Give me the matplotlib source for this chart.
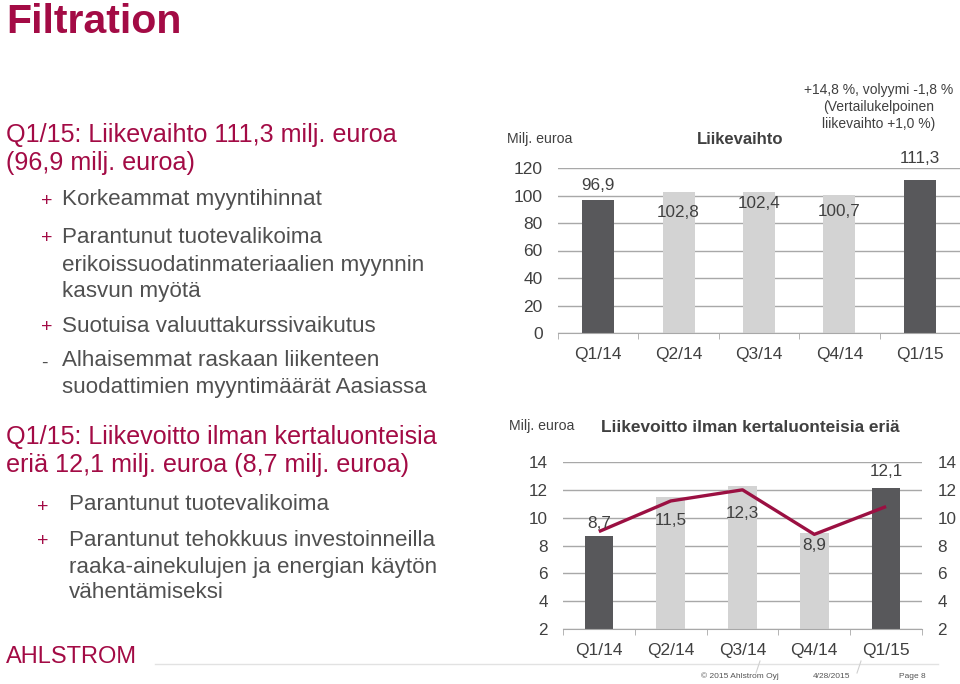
import matplotlib
matplotlib.use("Agg")
import matplotlib.pyplot as plt
from matplotlib.lines import Line2D

plt.rcParams['font.family'] = ['Liberation Sans', 'DejaVu Sans']

quarters = ['Q1/14', 'Q2/14', 'Q3/14', 'Q4/14', 'Q1/15']
net_sales = [96.9, 102.8, 102.4, 100.7, 111.3]
op_profit = [8.7, 11.5, 12.3, 8.9, 12.1]
op_trend = [9.0, 11.2, 12.0, 8.8, 10.8]
highlight = [True, False, False, False, True]

sales_ticks = [0, 20, 40, 60, 80, 100, 120]
profit_ticks = [2, 4, 6, 8, 10, 12, 14]

# label offsets (points) relative to bar tops
sales_label_dy = [10.5, -15, -8, -12, 15.5]
profit_label_dy = [9, -17, -20, -9, 12]

DARK = '#58585b'
LIGHT = '#d3d3d3'
CRIMSON = '#a30b45'
LINE = '#9b1042'
GRAY_TXT = '#505050'
GRID = '#a8a8a8'

W, H = 960, 684
fig = plt.figure(figsize=(W / 100, H / 100), dpi=100)


def fx(x):
    return x / W


def fy(y):
    return 1 - y / H


def fmt(v):
    return f"{v:.1f}".replace('.', ',')


def style_axis(ax, ticks, ylim, ylabsize):
    x = list(range(len(quarters)))
    ax.set_xlim(-0.5, len(quarters) - 0.5)
    ax.set_ylim(*ylim)
    ax.set_yticks(ticks)
    ax.set_yticklabels([str(t) for t in ticks])
    ax.set_xticks(x)
    ax.set_xticklabels(quarters)
    ax.set_xticks([i - 0.5 for i in range(len(quarters) + 1)], minor=True)
    ax.tick_params(axis='x', which='major', length=0, labelsize=12.5,
                   labelcolor='#404040', pad=10)
    ax.tick_params(axis='x', which='minor', length=4, color=GRID, direction='out')
    ax.tick_params(axis='y', length=0, labelsize=ylabsize, labelcolor='#404040', pad=11)
    for s in ['top', 'right', 'left']:
        ax.spines[s].set_visible(False)
    ax.spines['bottom'].set_color(GRID)
    ax.grid(axis='y', color=GRID, linewidth=1)
    ax.set_axisbelow(True)


# ---------- top chart: net sales ----------
ax1 = fig.add_axes([fx(558), fy(333), fx(960) - fx(558), fy(168) - fy(333)])
xs = list(range(len(quarters)))
cols = [DARK if h else LIGHT for h in highlight]
ax1.bar(xs, net_sales, width=0.4, color=cols, zorder=2)
style_axis(ax1, sales_ticks, (0, 120), 12.5)
for i, v in enumerate(net_sales):
    ax1.annotate(fmt(v), (xs[i], v), xytext=(0, sales_label_dy[i]),
                 textcoords='offset points', ha='center', va='center',
                 fontsize=12.3, color='#404040', zorder=3)

# ---------- bottom chart: operating profit ----------
ax2 = fig.add_axes([fx(563), fy(629), fx(922) - fx(563), fy(462) - fy(629)])
ax2.bar(xs, op_profit, width=0.4, color=cols, zorder=2)
style_axis(ax2, profit_ticks, (2, 14), 12.3)
ax2.tick_params(axis='y', labelright=True, pad=11)
ax2.plot(xs, op_trend, color=LINE, linewidth=2.4, zorder=4, solid_capstyle='butt')
for i, v in enumerate(op_profit):
    ax2.annotate(fmt(v), (xs[i], v), xytext=(0, profit_label_dy[i]),
                 textcoords='offset points', ha='center', va='center',
                 fontsize=12.3, color='#404040', zorder=5)

# ---------- chart titles and notes ----------
fig.text(fx(740), fy(140), 'Liikevaihto', fontsize=12, fontweight='bold',
         color='#404040', ha='center', va='center')
fig.text(fx(750), fy(427), 'Liikevoitto ilman kertaluonteisia eriä', fontsize=12.4,
         fontweight='bold', color='#404040', ha='center', va='center')
fig.text(fx(507), fy(139), 'Milj. euroa', fontsize=10.2, color='#404040',
         ha='left', va='center')
fig.text(fx(509), fy(426), 'Milj. euroa', fontsize=10.2, color='#404040',
         ha='left', va='center')
for txt, yy in [('+14,8 %, volyymi -1,8 %', 90), ('(Vertailukelpoinen', 107),
                ('liikevaihto +1,0 %)', 124)]:
    fig.text(fx(879), fy(yy), txt, fontsize=10, color='#404040',
             ha='center', va='center')

# ---------- left text ----------
fig.text(fx(6), fy(22), 'Filtration', fontsize=29.5, fontweight='bold',
         color=CRIMSON, ha='left', va='center')

heads = [('Q1/15: Liikevaihto 111,3 milj. euroa', 135),
         ('(96,9 milj. euroa)', 163),
         ('Q1/15: Liikevoitto ilman kertaluonteisia', 437),
         ('eriä 12,1 milj. euroa (8,7 milj. euroa)', 465)]
for txt, yy in heads:
    fig.text(fx(6), fy(yy), txt, fontsize=18.1, color=CRIMSON, ha='left', va='center')

bullets1 = [('+', 'Korkeammat myyntihinnat', 200),
            ('+', 'Parantunut tuotevalikoima', 237),
            ('', 'erikoissuodatinmateriaalien myynnin', 265),
            ('', 'kasvun myötä', 292),
            ('+', 'Suotuisa valuuttakurssivaikutus', 326),
            ('-', 'Alhaisemmat raskaan liikenteen', 361),
            ('', 'suodattimien myyntimäärät Aasiassa', 388)]
for sym, txt, yy in bullets1:
    if sym:
        fig.text(fx(41), fy(yy + 2), sym, fontsize=14,
                 color=CRIMSON if sym == '+' else GRAY_TXT, ha='left', va='center')
    fig.text(fx(62), fy(yy), txt, fontsize=16.1, color=GRAY_TXT, ha='left', va='center')

bullets2 = [('+', 'Parantunut tuotevalikoima', 505),
            ('+', 'Parantunut tehokkuus investoinneilla', 540),
            ('', 'raaka-ainekulujen ja energian käytön', 567),
            ('', 'vähentämiseksi', 593)]
for sym, txt, yy in bullets2:
    if sym:
        fig.text(fx(37), fy(yy + 2), sym, fontsize=14, color=CRIMSON,
                 ha='left', va='center')
    fig.text(fx(69), fy(yy), txt, fontsize=16.1, color=GRAY_TXT, ha='left', va='center')

# ---------- logo and footer ----------
fig.text(fx(6), fy(657), 'AHLSTROM', fontsize=17, color=CRIMSON, ha='left',
         va='center')
fig.add_artist(Line2D([fx(155), fx(938)], [fy(664), fy(664)], color='#e2e2e2',
                      linewidth=1, transform=fig.transFigure))
for xx in (758, 859):
    fig.add_artist(Line2D([fx(xx - 2), fx(xx + 2)], [fy(673), fy(661)],
                          color='#d0d0d0', linewidth=0.8, transform=fig.transFigure))
fig.text(fx(740), fy(676), '© 2015 Ahlstrom Oyj', fontsize=6, color='#555555',
         ha='center', va='center')
fig.text(fx(832), fy(676), '4/28/2015', fontsize=6, color='#555555',
         ha='center', va='center')
fig.text(fx(912), fy(676), 'Page 8', fontsize=6, color='#555555',
         ha='center', va='center')

fig.savefig('out.png', dpi=100)
